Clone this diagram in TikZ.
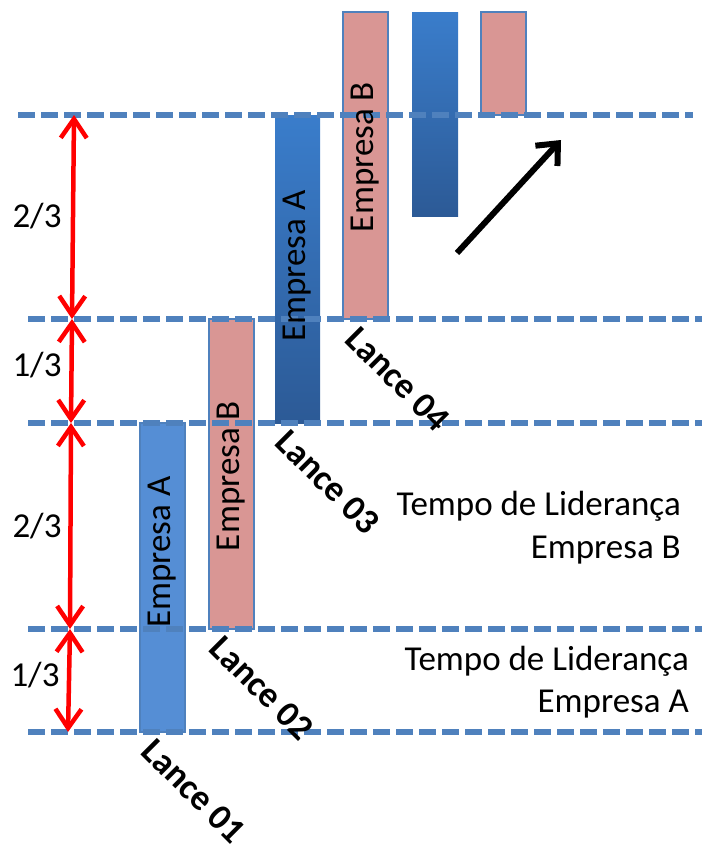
\documentclass[tikz,border=0pt]{standalone}
\usepackage{fontspec}
\setmainfont{Carlito}
\usetikzlibrary{arrows.meta}
\definecolor{dashblue}{RGB}{79,129,189}
\definecolor{barblue}{RGB}{85,142,213}
\definecolor{barpink}{RGB}{217,150,148}
\definecolor{gradtop}{RGB}{58,125,203}
\definecolor{gradbot}{RGB}{44,90,150}
\definecolor{arrowred}{RGB}{255,0,0}
\begin{document}
\begin{tikzpicture}[x=1pt,y=-1pt,
  bar/.style={draw=dashblue, line width=1.5pt, inner sep=0pt, outer sep=0pt, anchor=north west},
  barA/.style={bar, fill=barblue},
  barB/.style={bar, fill=barpink},
  barG/.style={bar, draw=none, top color=gradtop, bottom color=gradbot},
  vtext/.style={rotate=90, font=\fontsize{35}{40}\selectfont, inner sep=0pt},
  lance/.style={rotate=-45, font=\bfseries\fontsize{36}{40}\selectfont, inner sep=0pt},
  frac/.style={font=\fontsize{35}{40}\selectfont, inner sep=0pt, anchor=base},
  tempo/.style={font=\fontsize{35}{40}\selectfont, inner sep=0pt, anchor=base east},
  level/.style={draw=dashblue, line width=5.5pt, dash pattern=on 17pt off 6pt},
  redarr/.style={draw=arrowred, line width=4.5pt, {Straight Barb[length=19pt,width=26pt,line width=4.5pt]}-{Straight Barb[length=19pt,width=26pt,line width=4.5pt]}},
  blackarr/.style={draw=black, line width=6pt, -{Straight Barb[length=17pt,width=30pt,line width=6pt]}}
]
\useasboundingbox (0,0) rectangle (702,844);

% bars
\node[barA, minimum width=45pt, minimum height=309pt] (b1) at (140,423) {};
\node[barB, minimum width=45pt, minimum height=310pt] (b2) at (209,319) {};
\node[barG, minimum width=45pt, minimum height=308pt] (b3) at (275,115) {};
\node[barB, minimum width=45pt, minimum height=307pt] (b4) at (343,12) {};
\node[barG, minimum width=46pt, minimum height=204pt] (b5) at (412,12) {};
\node[barB, minimum width=45pt, minimum height=103pt] (b6) at (481,12) {};

% dashed level lines
\coordinate (l1s) at (18,115);  \coordinate (l1e) at (693,115);
\coordinate (l2s) at (28,319);  \coordinate (l2e) at (702,319);
\coordinate (l3s) at (28,423);  \coordinate (l3e) at (702,423);
\coordinate (l4s) at (28,629);  \coordinate (l4e) at (702,629);
\coordinate (l5s) at (28,732);  \coordinate (l5e) at (702,732);
\draw[level] (l1s) -- (l1e);
\draw[level] (l2s) -- (l2e);
\draw[level] (l3s) -- (l3e);
\draw[level] (l4s) -- (l4e);
\draw[level] (l5s) -- (l5e);

% bar labels
\node[vtext] (t1) at (162.5,552) {Empresa A};
\node[vtext] (t2) at (231.5,476) {Empresa B};
\node[vtext] (t3) at (297.5,266) {Empresa A};
\node[vtext] (t4) at (365.5,157) {Empresa B};

% lance labels
\node[lance] (lan1) at (194,791) {Lance 01};
\node[lance] (lan2) at (262,688) {Lance 02};
\node[lance] (lan3) at (328,482) {Lance 03};
\node[lance] (lan4) at (398,379) {Lance 04};

% red dimension arrows
\coordinate (r1) at (74,115);
\coordinate (r2) at (72,319);
\coordinate (r3) at (71,423);
\coordinate (r4) at (70,629);
\coordinate (r5) at (68,732);
\draw[redarr] (r1) -- (r2);
\draw[redarr] (r2) -- (r3);
\draw[redarr] (r3) -- (r4);
\draw[redarr] (r4) -- (r5);

\node[frac] (f1) at (37,227) {2/3};
\node[frac] (f2) at (37,376) {1/3};
\node[frac] (f3) at (37,537) {2/3};
\node[frac] (f4) at (35,686) {1/3};

% tempo labels
\node[tempo] (tb1) at (681,515) {Tempo de Liderança};
\node[tempo] (tb2) at (681,558) {Empresa B};
\node[tempo] (ta1) at (689,670) {Tempo de Liderança};
\node[tempo] (ta2) at (689,712) {Empresa A};

% black trend arrow
\coordinate (k1) at (457,253);
\coordinate (k2) at (561,140);
\draw[blackarr] (k1) -- (k2);
\end{tikzpicture}
\end{document}
